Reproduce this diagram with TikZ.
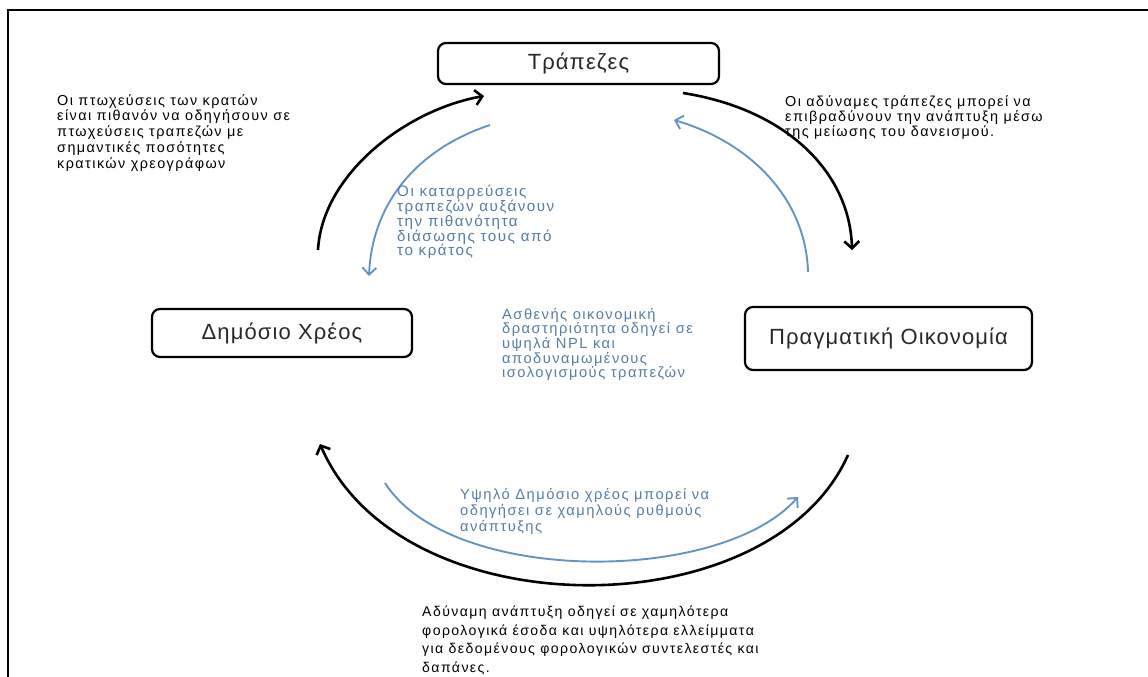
\documentclass[tikz,border=0pt]{standalone}
\usepackage{fontspec}
\setmainfont{Liberation Sans}
\newfontfamily\smfont[LetterSpace=10]{Liberation Sans}
\newfontfamily\bxfont[LetterSpace=5]{Liberation Sans}
\usetikzlibrary{arrows.meta}
\definecolor{bluetext}{RGB}{85,125,165}
\definecolor{blueline}{RGB}{100,148,195}
\definecolor{boxtext}{RGB}{40,40,40}
\begin{document}
\begin{tikzpicture}[x=1pt,y=-1pt,
  box/.style={draw=black, line width=2.2pt, rounded corners=8pt, inner sep=0pt,
    text=boxtext, font=\bxfont\fontsize{22}{26}\selectfont},
  note/.style={anchor=north west, inner sep=0pt, align=left, text=black},
  bnote/.style={note, text=bluetext},
  blackarc/.style={draw=black, line width=2.6pt, -{Straight Barb[length=7pt,width=15pt]}},
  bluearc/.style={draw=blueline, line width=1.9pt, -{Straight Barb[length=7pt,width=14pt]}}]
\useasboundingbox (0,0) rectangle (1148,677);
% frame
\coordinate (f1) at (8,677);
\coordinate (f2) at (8,10);
\coordinate (f3) at (1148,10);
\draw[line width=1.5pt] (f1) -- (f2) -- (f3);
% boxes
\node[box, minimum width=281pt, minimum height=41pt] (banks) at (578.5,63.5) {Τράπεζες};
\node[box, minimum width=260pt, minimum height=48pt] (debt) at (282,333) {Δημόσιο Χρέος};
\node[box, minimum width=287pt, minimum height=63pt] (econ) at (888.5,338.5) {Πραγματική Οικονομία};
% arc end points
\coordinate (a1s) at (318,250);  \coordinate (a1e) at (484,96);
\coordinate (a2s) at (683,93);   \coordinate (a2e) at (852,250);
\coordinate (b1s) at (490,125);  \coordinate (b1e) at (369,276);
\coordinate (b2s) at (808,272);  \coordinate (b2e) at (674,120);
\coordinate (a3s) at (848,455);  \coordinate (a3e) at (320,444);
\coordinate (b3s) at (385,483);  \coordinate (b3e) at (798,497);
% black arcs
\draw[blackarc] (a1s) .. controls (322,175) and (405,110) .. (a1e);
\draw[blackarc] (a2s) .. controls (790,110) and (850,175) .. (a2e);
\draw[blackarc] (a3s) .. controls (770,630) and (400,630) .. (a3e);
% blue arcs
\draw[bluearc] (b1s) .. controls (415,150) and (372,205) .. (b1e);
\draw[bluearc] (b2s) .. controls (806,200) and (752,143) .. (b2e);
\draw[bluearc] (b3s) .. controls (450,585) and (720,585) .. (b3e);
% texts
\node[note, font=\smfont\fontsize{14.4}{15.8}\selectfont] (t1) at (57,94)
  {Οι πτωχεύσεις των κρατών\\είναι πιθανόν να οδηγήσουν σε\\πτωχεύσεις τραπεζών με\\σημαντικές ποσότητες\\κρατικών χρεογράφων};
\node[note, font=\smfont\fontsize{14.4}{15.2}\selectfont] (t2) at (785,95)
  {Οι αδύναμες τράπεζες μπορεί να\\επιβραδύνουν την ανάπτυξη μέσω\\της μείωσης του δανεισμού.};
\node[bnote, font=\smfont\fontsize{15.2}{14.8}\selectfont] (t3) at (397,185)
  {Οι καταρρεύσεις\\τραπεζών αυξάνουν\\την πιθανότητα\\διάσωσης τους από\\το κράτος};
\node[bnote, font=\smfont\fontsize{14.7}{14.6}\selectfont] (t4) at (502,308)
  {Ασθενής οικονομική\\δραστηριότητα οδηγεί σε\\υψηλά NPL και\\αποδυναμωμένους\\ισολογισμούς τραπεζών};
\node[bnote, font=\smfont\fontsize{14.7}{16}\selectfont] (t5) at (460,488)
  {Υψηλό Δημόσιο χρέος μπορεί να\\οδηγήσει σε χαμηλούς ρυθμούς\\ανάπτυξης};
\node[note, font=\smfont\fontsize{14.1}{18.5}\selectfont] (t6) at (422,606)
  {Αδύναμη ανάπτυξη οδηγεί σε χαμηλότερα\\φορολογικά έσοδα και υψηλότερα ελλείμματα\\για δεδομένους φορολογικών συντελεστές και\\δαπάνες.};
\end{tikzpicture}
\end{document}
